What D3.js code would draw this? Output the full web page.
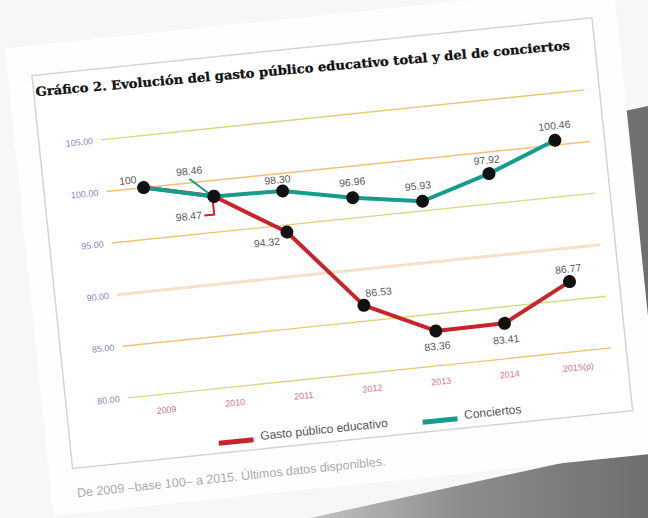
<!DOCTYPE html>
<html><head><meta charset="utf-8">
<script src="https://cdn.jsdelivr.net/npm/d3@7"></script>
<style>body{margin:0;background:#fff}svg{display:block}</style></head><body>
<script>
const years = ["2009","2010","2011","2012","2013","2014","2015(p)"];
const gasto = [100, 98.47, 94.32, 86.53, 83.36, 83.41, 86.77];
const conciertos = [100, 98.46, 98.30, 96.96, 95.93, 97.92, 100.46];
const yTicks = [80, 85, 90, 95, 100, 105];
const seriesNames = ["Gasto público educativo", "Conciertos"];
const titleText = "Gráfico 2. Evolución del gasto público educativo total y del de conciertos";
const noteText = "De 2009 –base 100– a 2015. Últimos datos disponibles.";

const W = 648, H = 518;
const svg = d3.select("body").append("svg").attr("width", W).attr("height", H);
const defs = svg.append("defs");

// background surface
svg.append("rect").attr("width", W).attr("height", H).attr("fill", "#f7f7f7");
const sh = defs.append("linearGradient").attr("id", "shade").attr("gradientUnits", "userSpaceOnUse")
  .attr("x1", 300).attr("y1", 0).attr("x2", 648).attr("y2", 0);
sh.append("stop").attr("offset", 0).attr("stop-color", "#c8c8c8");
sh.append("stop").attr("offset", 0.45).attr("stop-color", "#8e8e8e");
sh.append("stop").attr("offset", 1).attr("stop-color", "#6e6e6e");
svg.append("path").attr("d", "M620,112 L648,106 L648,518 L310,518 L640,446 Z").attr("fill", "url(#shade)");

// paper
const card = svg.append("g").attr("transform", "translate(28,76) rotate(-5.9)");
card.append("rect").attr("x", -20).attr("y", -30).attr("width", 612).attr("height", 470).attr("fill", "#fefefe");
card.append("rect").attr("x", 4).attr("y", 0).attr("width", 563).attr("height", 395)
  .attr("fill", "#fff").attr("stroke", "#d4d4d4").attr("stroke-width", 1.5);

// title
card.append("text").attr("x", 6).attr("y", 21).attr("transform", "rotate(0.9,6,17)")
  .attr("font-family", "DejaVu Serif").attr("font-weight", "bold").attr("font-size", 12.5)
  .attr("textLength", 536).attr("lengthAdjust", "spacingAndGlyphs").attr("fill", "#111")
  .attr("stroke", "#111").attr("stroke-width", 0.3)
  .text(titleText);

const x = d3.scaleBand().domain(years).range([69, 552]);
const y = d3.scaleLinear().domain([80, 105]).range([330.4, 71]);
const cx = d => x(d) + x.bandwidth() / 2;

// gridlines with gradient colours
const G = "#d0dc80", O = "#f2bf74";
const gridCols = {105: [G, O], 100: [O, O], 95: [O, G], 90: ["#f7e0c8", "#f7e0c8"], 85: [O, G], 80: [G, O]};
yTicks.forEach(t => {
  const id = "gl" + t;
  const lg = defs.append("linearGradient").attr("id", id).attr("gradientUnits", "userSpaceOnUse")
    .attr("x1", 66).attr("x2", 552).attr("y1", 0).attr("y2", 0);
  lg.append("stop").attr("offset", 0).attr("stop-color", gridCols[t][0]);
  lg.append("stop").attr("offset", 1).attr("stop-color", gridCols[t][1]);
});
const yAxis = d3.axisLeft(y).tickValues(yTicks).tickSize(0).tickPadding(0)
  .tickFormat(d => d.toFixed(2));
const ya = card.append("g").attr("transform", "translate(58,0)").call(yAxis);
ya.select(".domain").remove();
ya.selectAll("text").attr("font-family", "Liberation Sans").attr("font-size", 9).attr("fill", "#8585b8");
card.append("g").selectAll("line").data(yTicks).join("line")
  .attr("x1", 66).attr("x2", 552).attr("y1", d => y(d)).attr("y2", d => y(d))
  .attr("stroke", d => `url(#gl${d})`).attr("stroke-width", d => d === 90 ? 3 : 1.4);

// x axis labels
const xAxis = d3.axisBottom(x).tickSize(0).tickPadding(0);
const xa = card.append("g").attr("transform", "translate(0,343)").call(xAxis);
xa.select(".domain").remove();
xa.selectAll("text").attr("font-family", "Liberation Sans").attr("font-size", 9).attr("fill", "#d87484");

// lines
const line = d3.line().x((d, i) => cx(years[i])).y(d => y(d));
card.append("path").datum(gasto).attr("d", line).attr("fill", "none").attr("stroke", "#c8242b").attr("stroke-width", 4).attr("stroke-linejoin", "round");
card.append("path").datum(conciertos).attr("d", line).attr("fill", "none").attr("stroke", "#169c8e").attr("stroke-width", 4).attr("stroke-linejoin", "round");

// leader lines at 2010
card.append("path").attr("d", `M150,119 L${cx("2010") - 3},${y(conciertos[1]) - 2}`).attr("stroke", "#169c8e").attr("stroke-width", 2).attr("fill", "none");
card.append("path").attr("d", `M161,157 H171 V${y(gasto[1]) + 2}`).attr("stroke", "#c8242b").attr("stroke-width", 2).attr("fill", "none");

// dots
const pts = [];
years.forEach((yr, i) => { pts.push([yr, conciertos[i]]); if (i > 0) pts.push([yr, gasto[i]]); });
card.append("g").selectAll("circle").data(pts).join("circle")
  .attr("cx", d => cx(d[0])).attr("cy", d => y(d[1])).attr("r", 6.5).attr("fill", "#111");

// data labels: [series, index, dx, dy]
const fmt = v => v === 100 ? "100" : v.toFixed(2);
const labels = [
  ["c", 0, -15, -5], ["c", 1, -22, -24], ["g", 1, -27, 21],
  ["c", 2, -4, -8], ["g", 2, -21, 12],
  ["c", 3, 1, -12], ["g", 3, 16, -8],
  ["c", 4, -3, -12], ["g", 4, 0, 19],
  ["c", 5, -1, -10], ["g", 5, 0, 20],
  ["c", 6, 1, -11], ["g", 6, 0, -9]
];
card.append("g").selectAll("text").data(labels).join("text")
  .attr("x", d => cx(years[d[1]]) + d[2])
  .attr("y", d => y((d[0] === "c" ? conciertos : gasto)[d[1]]) + d[3])
  .attr("text-anchor", "middle").attr("font-family", "Liberation Sans").attr("font-size", 10.5).attr("fill", "#5a5a5a")
  .text(d => fmt((d[0] === "c" ? conciertos : gasto)[d[1]]));

// legend
const legCols = ["#c8242b", "#169c8e"];
const legX = [152, 357];
seriesNames.forEach((n, i) => {
  card.append("line").attr("x1", legX[i]).attr("x2", legX[i] + 35).attr("y1", 385).attr("y2", 385)
    .attr("stroke", legCols[i]).attr("stroke-width", 5);
  card.append("text").attr("x", legX[i] + 42).attr("y", 386).attr("font-family", "Liberation Sans")
    .attr("font-size", 12).attr("fill", "#555").text(n);
});

// footnote
card.append("text").attr("x", 6).attr("y", 424).attr("font-family", "Liberation Sans").attr("font-size", 12.5)
  .attr("fill", "#aaa").text(noteText);
</script></body></html>
